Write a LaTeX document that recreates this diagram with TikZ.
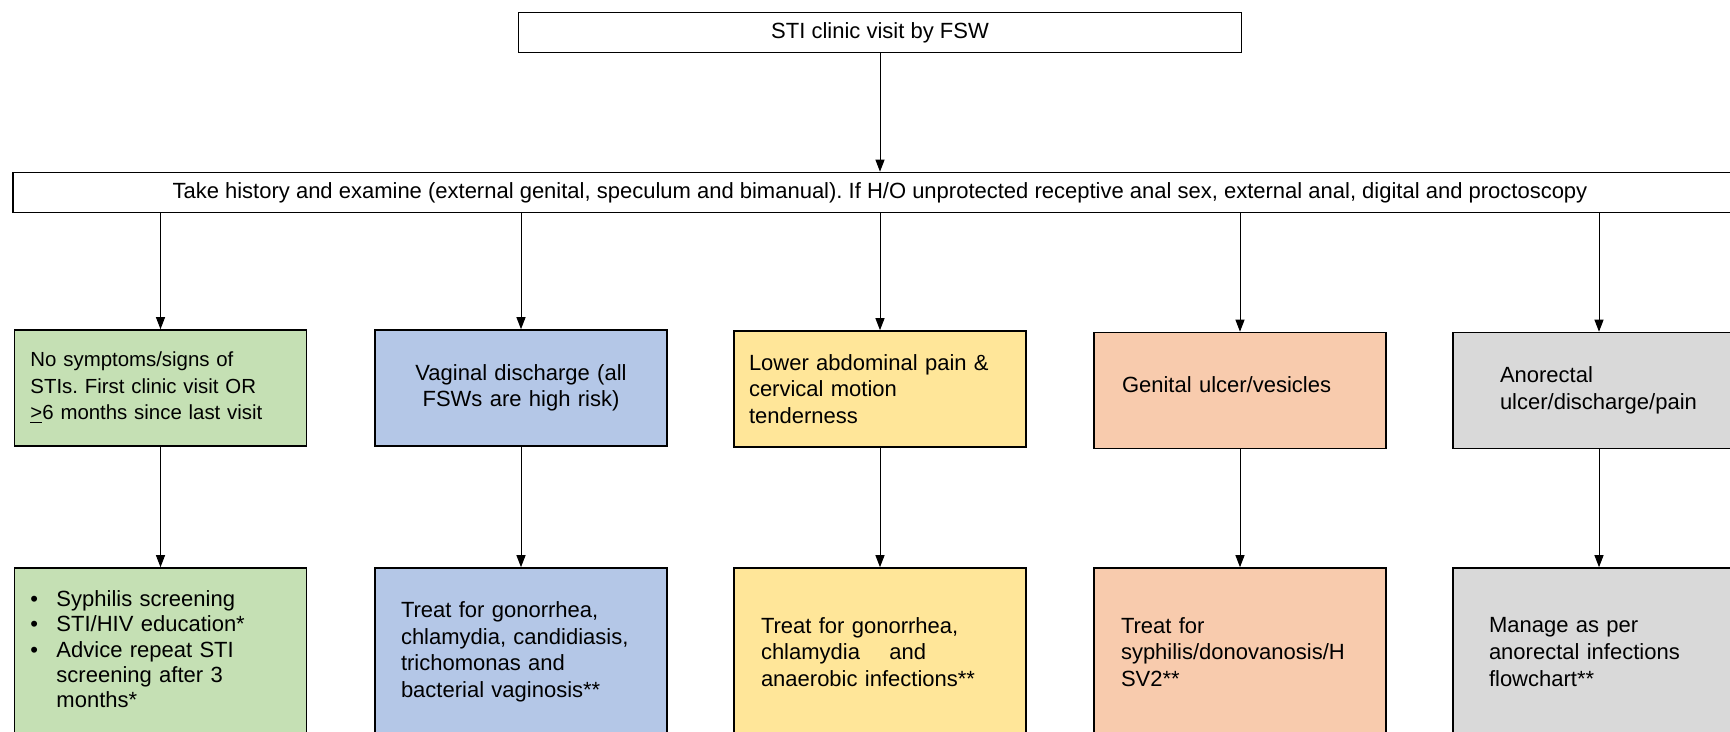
\documentclass[tikz,border=0pt]{standalone}
\usepackage{fontspec}
\setmainfont{Liberation Sans}
\usetikzlibrary{arrows.meta,positioning}
\frenchspacing
\definecolor{nosign}{RGB}{197, 224, 180}
\definecolor{discharge}{RGB}{180, 199, 231}
\definecolor{pelvic}{RGB}{255, 230, 153}
\definecolor{ulcer}{RGB}{248, 203, 173}
\definecolor{anal}{RGB}{217, 217, 217}
\tikzstyle{link} = [
    line width=0.5pt,
    -{Triangle[width=4.5pt,length=6pt]},
    draw=black
]
\tikzstyle{header} = [
    rectangle,
    draw=black,
    line width=0.8pt,
    minimum height=20pt,
    font=\fontsize{11}{13}\selectfont
]
\tikzstyle{box} = [
    rectangle,
    draw=black,
    line width=0.8pt,
    inner xsep=0pt,
    inner ysep=0pt,
    align=left,
    font=\fontsize{11}{13.3}\selectfont
]
\tikzstyle{stage} = [box, minimum width=146pt, minimum height=58pt]
\tikzstyle{action} = [box, minimum width=146pt, minimum height=84pt]

\begin{document}
\begin{tikzpicture}[x=0.5pt,y=-0.5pt]
        \clip (0,0) rectangle (1730,732);
        \fill[white] (0,0) rectangle (1730,732);

        % First visit and examination
        \node[header, minimum width=361.5pt] (visit) at (880,32.5) {STI clinic visit by FSW};
        \node[header, minimum width=867pt] (exam) at (880,192.5) {Take history and examine (external genital, speculum and bimanual). If H/O unprotected receptive anal sex, external anal, digital and proctoscopy};

        % Signs found
        \node[stage, fill=nosign, text width=130pt, font=\fontsize{10.2}{13.3}\selectfont] (nosym) at (160.5,388) {No symptoms/signs of\\STIs. First clinic visit OR\\\mbox{\underline{>}6 months since last visit}};
        \node[stage, fill=discharge, text width=130pt, align=center] (vdis) at (521,388) {Vaginal discharge (all\\FSWs are high risk)};
        \node[stage, fill=pelvic, text width=131pt] (pain) at (880,389) {Lower abdominal pain \&\\cervical motion\\tenderness};
        \node[stage, fill=ulcer, text width=118pt, text depth=6pt] (gulcer) at (1240,390.5) {Genital ulcer/vesicles};
        \node[stage, fill=anal, text width=99pt] (anor) at (1599,390.5) {Anorectal\\\mbox{ulcer/discharge/pain}};

        % Management
        \node[action, fill=nosign, text width=130pt] (nosymact) at (160.5,652) {%
            \renewcommand{\arraystretch}{0.94}%
            \begin{tabular}{@{}l@{}l@{}}
                \makebox[13pt][l]{\textbullet} & Syphilis screening\\
                \makebox[13pt][l]{\textbullet} & STI/HIV education*\\
                \makebox[13pt][l]{\textbullet} & Advice repeat STI\\
                & screening after 3\\
                & months*
            \end{tabular}};
        \node[action, fill=discharge, text width=120pt] (vdisact) at (521,652) {Treat for gonorrhea,\\\mbox{chlamydia, candidiasis,}\\trichomonas and\\bacterial vaginosis**};
        \node[action, fill=pelvic, text width=119pt] (painact) at (880,652) {Treat for gonorrhea,\\chlamydia\ \ \ \ and\\anaerobic infections**};
        \node[action, fill=ulcer, text width=119pt] (gulceract) at (1240,652) {Treat for\\\mbox{syphilis/donovanosis/H}\\SV2**};
        \node[action, fill=anal, text width=110pt] (anoract) at (1599,652) {Manage as per\\anorectal infections\\flowchart**};

        % Connectors
        \draw[link] (visit) -- (exam);
        \foreach \s/\a in {nosym/nosymact, vdis/vdisact, pain/painact, gulcer/gulceract, anor/anoract} {
            \draw[link] (exam.south -| \s.north) -- (\s.north);
            \draw[link] (\s) -- (\a);
        }
    \end{tikzpicture}
\end{document}
